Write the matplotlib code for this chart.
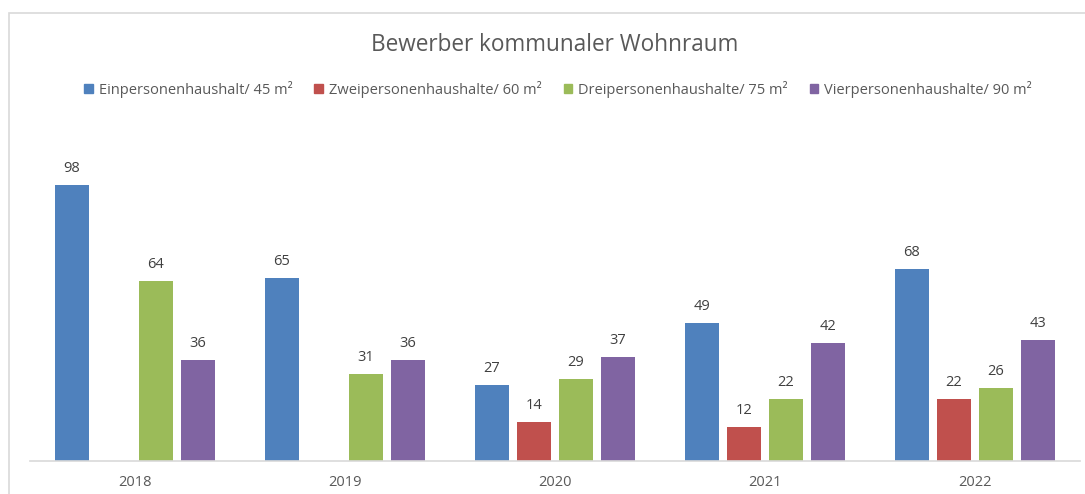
import numpy as np
import matplotlib.pyplot as plt
from matplotlib.patches import Rectangle

years = ['2018', '2019', '2020', '2021', '2022']
series_names = ['Einpersonenhaushalt/ 45 m²', 'Zweipersonenhaushalte/ 60 m²',
                'Dreipersonenhaushalte/ 75 m²', 'Vierpersonenhaushalte/ 90 m²']
ein = [98, 65, 27, 49, 68]
zwei = [np.nan, np.nan, 14, 12, 22]
drei = [64, 31, 29, 22, 26]
vier = [36, 36, 37, 42, 43]
colors = ['#4F81BD', '#C0504D', '#9BBB59', '#8064A2']

plt.rcParams['font.family'] = ['Open Sans', 'DejaVu Sans']

fig = plt.figure(figsize=(10.85, 4.94), dpi=100)
W, H = 1085, 494
ax = fig.add_axes([30 / W, (H - 461) / H, 1050 / W, (461 - 123) / H])

x = np.arange(len(years))
offsets = [-0.3, -0.1, 0.1, 0.3]
width = 0.158
for vals, off, col in zip([ein, zwei, drei, vier], offsets, colors):
    bars = ax.bar(x + off, vals, width=width, color=col)
    for b, v in zip(bars, vals):
        if np.isnan(v):
            continue
        ax.text(b.get_x() + b.get_width() / 2, v + 3.2, str(int(v)),
                ha='center', va='bottom', fontsize=10.5, color='#404040')

ax.set_xlim(-0.5, len(years) - 0.5)
ax.set_ylim(0, 120)
ax.set_xticks(x)
ax.set_xticklabels(years, fontsize=10.5, color='#595959')
ax.tick_params(axis='x', length=0, pad=10)
ax.set_yticks([])
for s in ['top', 'right', 'left']:
    ax.spines[s].set_visible(False)
ax.spines['bottom'].set_color('#D9D9D9')
ax.spines['bottom'].set_linewidth(1.2)

fig.text(555 / W, 1 - 45 / H, 'Bewerber kommunaler Wohnraum', ha='center', va='center',
         fontsize=16.3, color='#595959')

handles = [Rectangle((0, 0), 1, 1, color=c) for c in colors]
fig.legend(handles, series_names, loc='center', bbox_to_anchor=(558 / W, 1 - 89 / H),
           ncol=4, frameon=False, fontsize=10.5, labelcolor='#595959',
           handlelength=0.6, handleheight=0.6, handletextpad=0.4, columnspacing=1.5)

fig.patches.append(Rectangle((9 / W, -0.1), 1.2, 1.1 - 13 / H, transform=fig.transFigure,
                             fill=False, edgecolor='#D9D9D9', linewidth=1.2))

fig.savefig('out.png', dpi=100)
